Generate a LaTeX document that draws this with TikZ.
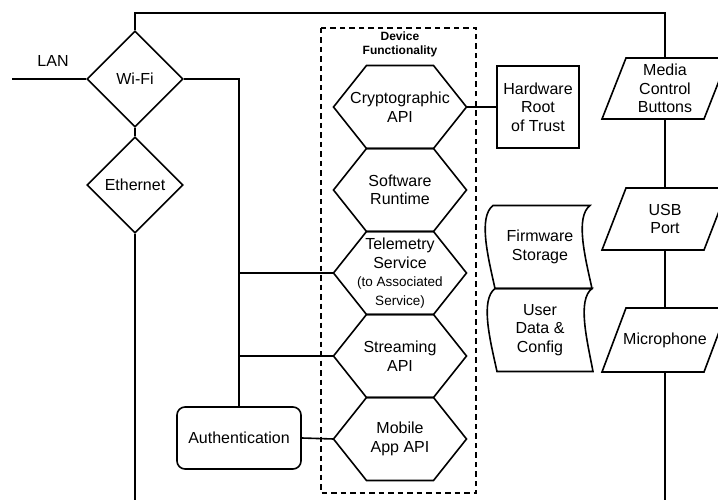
\documentclass[tikz,border=0pt]{standalone}
\usepackage{fontspec}
\setmainfont{Liberation Sans}
\usetikzlibrary{shapes.geometric}
\newcommand{\noteSize}{\fontsize{13.5}{16.5}\selectfont}

\begin{document}
\begin{tikzpicture}[
        x=1pt, y=-1pt,
        line width=1.6pt,
        every node/.style = {font=\fontsize{16}{18.5}\selectfont, align=center, inner sep=1pt},
        netport/.style = {diamond, draw, aspect=1, minimum width=96pt, minimum height=96pt},
        apiblock/.style = {rectangle, outer sep=0pt, minimum width=133pt, minimum height=83pt,
            append after command={\pgfextra{\draw ([xshift=33pt]\tikzlastnode.north west) -- ([xshift=-33pt]\tikzlastnode.north east) -- (\tikzlastnode.east) -- ([xshift=-33pt]\tikzlastnode.south east) -- ([xshift=33pt]\tikzlastnode.south west) -- (\tikzlastnode.west) -- cycle;}}},
        ioport/.style = {rectangle, outer sep=0pt, minimum width=102pt, minimum height=#1,
            append after command={\pgfextra{\draw ([xshift=12pt]\tikzlastnode.north west) -- ([xshift=12pt]\tikzlastnode.north east) -- ([xshift=-12pt]\tikzlastnode.south east) -- ([xshift=-12pt]\tikzlastnode.south west) -- cycle;}}},
        hwbox/.style = {rectangle, draw, minimum width=82pt, minimum height=82pt},
        store/.style = {rectangle, minimum width=97pt, minimum height=83pt},
        ]

        \useasboundingbox (0,0) rectangle (718,500);
        \coordinate (bus) at (0,13);
        \coordinate (floor) at (0,502);
        \coordinate (lan) at (12,79);

        % network side
        \node (wifi) at (135,79)    [netport] {Wi-Fi};
        \node (eth) at (135,185)    [netport] {Ethernet};
        \node (lanlabel) at (53,61) {LAN};
        \node (auth) at (239,438)   [draw, rounded corners=8pt, minimum width=124pt, minimum height=62pt] {Authentication};

        % device functionality
        \draw[dash pattern=on 5.5pt off 4pt] (321,28) rectangle (476,493);
        \node (devtitle) at (400,44) [font=\bfseries\fontsize{12}{14}\selectfont] {Device\\Functionality};
        \node (crypto) at (400,107)     [apiblock] {Cryptographic\\API};
        \node (runtime) at (400,190)    [apiblock] {Software\\Runtime};
        \node (telemetry) at (400,273)  [apiblock] {Telemetry\\Service\\\noteSize(to Associated\\\noteSize Service)};
        \node (streaming) at (400,356)  [apiblock] {Streaming\\API};
        \node (mobile) at (400,439)     [apiblock] {Mobile\\App API};

        % hardware
        \node (hwroot) at (538,107)     [hwbox] {Hardware\\Root\\of Trust};
        \node (fwstore) at (540,247)    [store] {Firmware\\Storage};
        \node (userdata) at (540,330)   [store] {User\\Data \&\\Config};
        \node (media) at (665,88.5)     [ioport=61pt] {Media\\Control\\Buttons};
        \node (usb) at (665,219)        [ioport=62pt] {USB\\Port};
        \node (mic) at (665,340)        [ioport=64pt] {Microphone};

        \begin{scope}[shift={(fwstore.center)}]
            \draw (-47,-41.5) .. controls (-62,-30) and (-52,10) .. (-45,41.5) -- (52,41.5) .. controls (45,10) and (35,-30) .. (50,-41.5) -- cycle;
        \end{scope}
        \begin{scope}[shift={(userdata.center)}]
            \draw (-45,-41.5) .. controls (-60,-30) and (-50,10) .. (-43,41.5) -- (53,41.5) .. controls (47,10) and (37,-30) .. (52,-41.5) -- cycle;
        \end{scope}

        % connectors
        \draw (lan) -- (wifi.west);
        \draw (wifi.south) -- (eth.north);
        \draw (eth.south) -- (eth.south |- floor);
        \draw (wifi.north) -- (wifi.north |- bus) -- (media.north |- bus) -- (media.north);
        \draw (wifi.east) -| (auth.north);
        \draw (telemetry.west) -- (telemetry.west -| auth.north);
        \draw (streaming.west) -- (streaming.west -| auth.north);
        \draw (auth.east) -- (mobile.west);
        \draw (crypto.east) -- (hwroot.west);
        \draw (media.south) -- (usb.north);
        \draw (usb.south) -- (mic.north);
        \draw (mic.south) -- (mic.south |- floor);

    \end{tikzpicture}
\end{document}
